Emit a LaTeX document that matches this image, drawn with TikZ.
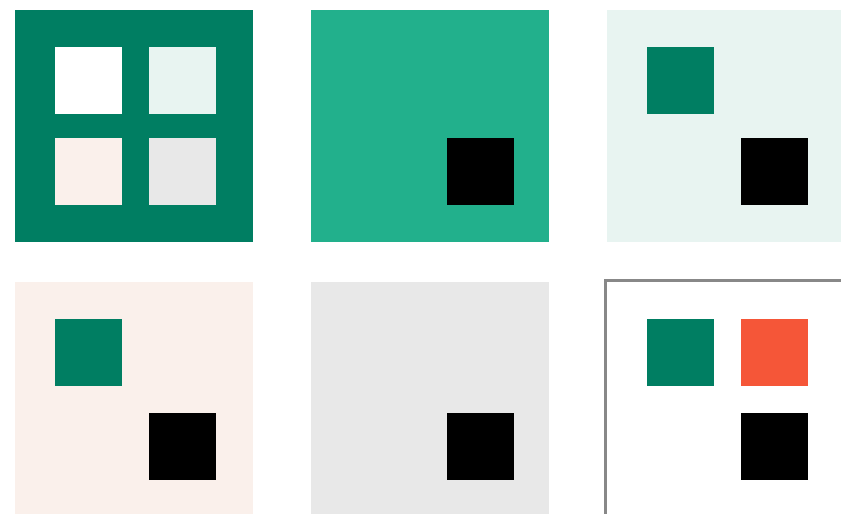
\documentclass[tikz,border=0pt]{standalone}
\definecolor{dkgreen}{HTML}{007E62}
\definecolor{mdgreen}{HTML}{22B08C}
\definecolor{ltgreen}{HTML}{E8F4F1}
\definecolor{peach}{HTML}{FAF0EB}
\definecolor{ltgray}{HTML}{E8E8E8}
\definecolor{orng}{HTML}{F55638}
\definecolor{edge}{HTML}{888888}
\begin{document}
\begin{tikzpicture}[x=1pt,y=-1pt]
\useasboundingbox (0,0) rectangle (841,514);

\fill[dkgreen] (15,10) rectangle (253,242);
\fill[mdgreen] (311,10) rectangle (549,242);
\fill[ltgreen] (607,10) rectangle (841,242);
\fill[peach] (15,282) rectangle (253,514);
\fill[ltgray] (311,282) rectangle (549,514);
\draw[edge,line width=3] (605.5,514) -- (605.5,280.5) -- (841,280.5);

\foreach \x/\y/\c in {55/47/white,149/47/ltgreen,55/138/peach,149/138/ltgray}
{\fill[\c] (\x,\y) rectangle +(67,67);}
\foreach \x/\y in {647/47,55/319,647/319}
{\fill[dkgreen] (\x,\y) rectangle +(67,67);}
\fill[orng] (741,319) rectangle +(67,67);
\foreach \x/\y in {447/138,741/138,149/413,447/413,741/413}
{\fill (\x,\y) rectangle +(67,67);}

\end{tikzpicture}
\end{document}
